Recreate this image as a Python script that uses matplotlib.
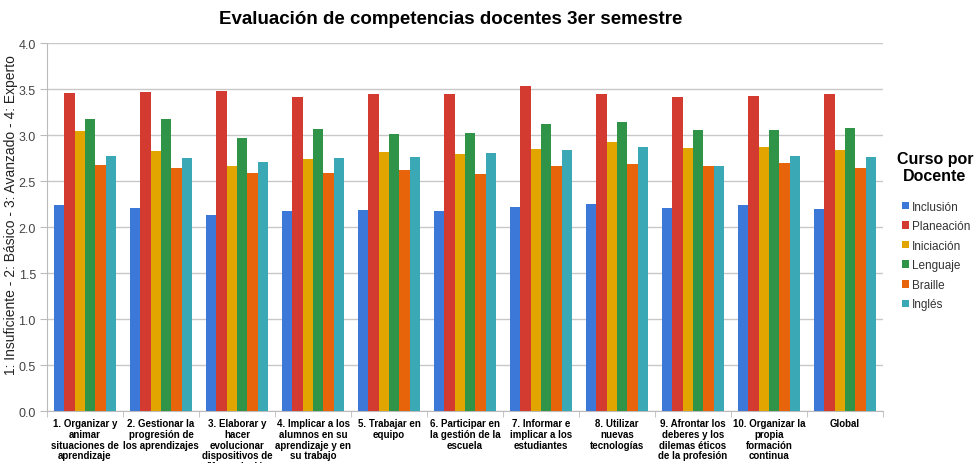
import matplotlib
matplotlib.use("Agg")
import matplotlib.pyplot as plt
import numpy as np

plt.rcParams['font.family'] = ['Liberation Sans', 'DejaVu Sans']

categories = [
    "1. Organizar y\nanimar\nsituaciones de\naprendizaje",
    "2. Gestionar la\nprogresión de\nlos aprendizajes",
    "3. Elaborar y\nhacer\nevolucionar\ndispositivos de\ndiferenciación",
    "4. Implicar a los\nalumnos en su\naprendizaje y en\nsu trabajo",
    "5. Trabajar en\nequipo",
    "6. Participar en\nla gestión de la\nescuela",
    "7. Informar e\nimplicar a los\nestudiantes",
    "8. Utilizar\nnuevas\ntecnologías",
    "9. Afrontar los\ndeberes y los\ndilemas éticos\nde la profesión",
    "10. Organizar la\npropia\nformación\ncontinua",
    "Global",
]

series_names = ["Inclusión", "Planeación", "Iniciación", "Lenguaje", "Braille", "Inglés"]

inclusion  = [2.24, 2.21, 2.13, 2.17, 2.19, 2.17, 2.22, 2.25, 2.21, 2.24, 2.20]
planeacion = [3.46, 3.47, 3.48, 3.41, 3.45, 3.45, 3.53, 3.45, 3.41, 3.43, 3.45]
iniciacion = [3.04, 2.83, 2.66, 2.74, 2.82, 2.79, 2.85, 2.92, 2.86, 2.87, 2.84]
lenguaje   = [3.17, 3.17, 2.97, 3.07, 3.01, 3.02, 3.12, 3.14, 3.05, 3.06, 3.08]
braille    = [2.68, 2.64, 2.59, 2.59, 2.62, 2.58, 2.66, 2.69, 2.66, 2.70, 2.64]
ingles     = [2.77, 2.75, 2.71, 2.75, 2.76, 2.81, 2.84, 2.87, 2.66, 2.77, 2.76]

series = [inclusion, planeacion, iniciacion, lenguaje, braille, ingles]
colors = ["#3c78d8", "#d33b30", "#e2a500", "#2f9447", "#e8640a", "#3ba8b5"]

W, H = 979, 464
fig = plt.figure(figsize=(W / 100, H / 100), dpi=100)
ax = fig.add_axes([0.048, 0.112, 0.854, 0.793])

n = len(categories)
x = np.arange(n)
bw = 0.136
for i, (vals, name, c) in enumerate(zip(series, series_names, colors)):
    ax.bar(x + (i - 2.5) * bw, vals, width=bw, color=c, label=name, zorder=3)

ax.set_xlim(-0.5, n - 0.5)
ax.set_ylim(0, 4.0)
yt = np.arange(0, 4.01, 0.5)
ax.set_yticks(yt)
ax.set_yticklabels([f"{v:.1f}" for v in yt], fontsize=9, color="#444444")
ax.grid(axis="y", color="#c8c8c8", linewidth=1, zorder=0)

ax.set_xticks(x)
ax.set_xticklabels(categories, fontsize=7, fontweight="bold", linespacing=1.1, va="top")
ax.tick_params(axis="x", length=0, pad=5)
ax.set_xticks(np.arange(-0.5, n, 1.0), minor=True)
ax.tick_params(axis="x", which="minor", length=4, color="#bbbbbb")
ax.tick_params(axis="y", length=5, color="#bbbbbb", pad=3)

for s in ["top", "right"]:
    ax.spines[s].set_visible(False)
ax.spines["left"].set_color("#bbbbbb")
ax.spines["bottom"].set_color("#bbbbbb")

fig.text(11 / W, 1 - 215 / H, "1: Insuficiente - 2: Básico - 3: Avanzado - 4: Experto",
         rotation=90, ha="center", va="center", fontsize=10, color="#222222")

fig.text(451 / W, 1 - 19 / H, "Evaluación de competencias docentes 3er semestre",
         ha="center", va="center", fontsize=13.5, fontweight="bold")

fig.text(935 / W, 1 - 168 / H, "Curso por\nDocente", ha="center", va="center",
         fontsize=11.5, fontweight="bold", linespacing=1.15)

leg = fig.legend(*ax.get_legend_handles_labels(), loc="upper left",
                 bbox_to_anchor=(897 / W, 1 - 197 / H), frameon=False,
                 fontsize=8.5, handlelength=0.6, handleheight=0.6,
                 handletextpad=0.3, labelspacing=0.64, borderaxespad=0)
for t in leg.get_texts():
    t.set_color("#333333")

fig.savefig("out.png", dpi=100)
